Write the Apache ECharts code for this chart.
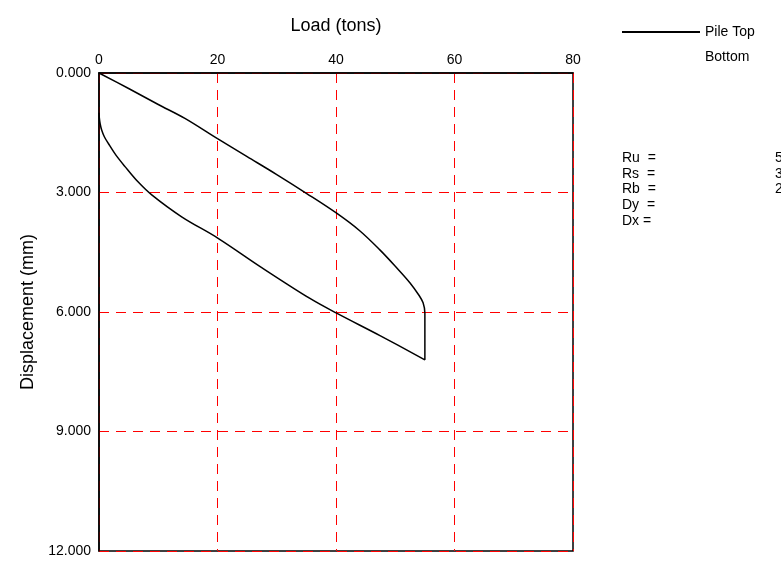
<!DOCTYPE html>
<html>
<head>
<meta charset="utf-8">
<script src="https://cdn.jsdelivr.net/npm/echarts@6/dist/echarts.min.js"></script>
<style>
html, body { margin: 0; padding: 0; background: #fff; }
#main { width: 781px; height: 571px; }
</style>
</head>
<body>
<div id="main"></div>
<script>
// load (tons) and displacement (mm), loading then holding then unloading
var loadTons = [0, 5, 10, 14.5, 20, 25, 30, 35, 40.1, 44, 47.4, 50, 52.5, 54, 54.7, 55, 55, 55,
	47.5, 40.1, 35.6, 27.2, 20.1, 13.95, 8.9, 6.5, 4.39, 2.8, 1.58, 0.9, 0.45, 0.2, 0.05, 0];
var dispMm = [0, 0.39, 0.79, 1.14, 1.65, 2.1, 2.55, 3.02, 3.52, 3.96, 4.44, 4.85, 5.27, 5.58, 5.77, 6.03, 6.6, 7.2,
	6.6, 6.03, 5.66, 4.86, 4.15, 3.61, 3.06, 2.72, 2.35, 2.05, 1.77, 1.6, 1.43, 1.28, 1.12, 1.0];

var seriesNames = ['Pile Top', 'Bottom'];
var resultLabels = ['Ru  =', 'Rs  =', 'Rb  =', 'Dy  =', 'Dx ='];
var resultValues = ['55', '35', '20', '', ''];

var pts = [];
for (var i = 0; i < loadTons.length; i++) {
	pts.push([loadTons[i], dispMm[i]]);
}

var graphics = [];
for (var j = 0; j < resultLabels.length; j++) {
	graphics.push({
		type: 'text', left: 622, top: 151 + j * 15.8,
		style: { text: resultLabels[j], font: '14px "Liberation Sans", Arial', fill: '#000' }
	});
	graphics.push({
		type: 'text', left: 775, top: 151 + j * 15.8,
		style: { text: resultValues[j], font: '14px "Liberation Sans", Arial', fill: '#000' }
	});
}

var chart = echarts.init(document.getElementById('main'));
chart.setOption({
	animation: false,
	backgroundColor: '#fff',
	textStyle: { fontFamily: '"Liberation Sans", Arial' },
	grid: {
		left: 99, top: 73, right: 208, bottom: 20,
		show: true, borderColor: '#000', borderWidth: 1.5
	},
	legend: {
		orient: 'vertical',
		left: 617, top: 20,
		itemWidth: 78, itemHeight: 2, itemGap: 11,
		textStyle: { fontSize: 14, color: '#000' },
		data: [
			{ name: seriesNames[0], icon: 'rect' },
			{ name: seriesNames[1], icon: 'none' }
		]
	},
	xAxis: {
		type: 'value', position: 'top',
		min: 0, max: 80, interval: 20,
		name: 'Load (tons)', nameLocation: 'middle', nameGap: 38,
		nameTextStyle: { fontSize: 18, color: '#000' },
		axisLine: { show: true, lineStyle: { color: '#000', width: 1.5 } },
		axisTick: { show: false },
		axisLabel: { fontSize: 14, color: '#000', margin: 6 },
		splitLine: { show: true, lineStyle: { color: '#ff0000', type: [10, 7], width: 1 } }
	},
	yAxis: {
		type: 'value', inverse: true,
		min: 0, max: 12, interval: 3,
		name: 'Displacement (mm)', nameLocation: 'middle', nameGap: 62,
		nameTextStyle: { fontSize: 18, color: '#000' },
		axisLine: { show: true, lineStyle: { color: '#000', width: 1.5 } },
		axisTick: { show: false },
		axisLabel: {
			fontSize: 14, color: '#000', margin: 8,
			formatter: function (v) { return v.toFixed(3); }
		},
		splitLine: { show: true, lineStyle: { color: '#ff0000', type: [10, 7], width: 1 } }
	},
	graphic: graphics,
	series: [{
		name: seriesNames[0],
		type: 'line',
		data: pts,
		smooth: 0.35,
		showSymbol: false,
		symbol: 'none',
		itemStyle: { color: '#000' },
		lineStyle: { color: '#000', width: 1.5 },
		z: 5
	}, {
		name: seriesNames[1],
		type: 'line',
		data: [],
		symbol: 'none',
		itemStyle: { color: '#000' },
		lineStyle: { color: '#000', width: 1.5 }
	}]
});
</script>
</body>
</html>
